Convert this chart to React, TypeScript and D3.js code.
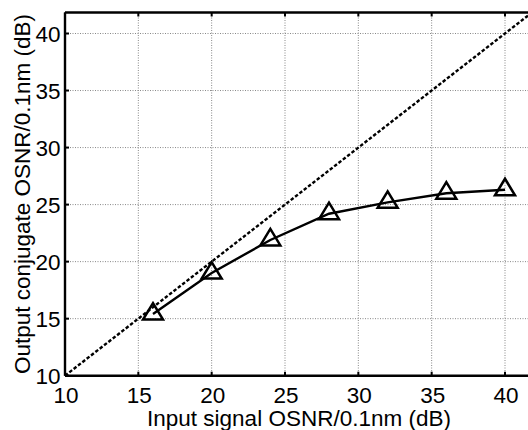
import React from "react";
import * as d3 from "d3";

const inputOSNR = [16, 20, 24, 28, 32, 36, 40];
const outputOSNR = [15.4, 19.0, 21.9, 24.2, 25.2, 26.0, 26.3];
const xTicks = [10, 15, 20, 25, 30, 35, 40];
const yTicks = [10, 15, 20, 25, 30, 35, 40];
const refLine = [10, 43];

const W = 528;
const H = 430;

export default function App() {
  const x = d3.scaleLinear().domain([10, 40]).range([65, 505]);
  const y = d3.scaleLinear().domain([10, 40]).range([375.7, 33.5]);
  const top = 12.5;
  const left = x(10);
  const bottom = y(10);
  const right = 540;
  const font = "Liberation Sans, Arial, Helvetica, sans-serif";
  const fs = 22.5;

  const line = d3
    .line<number>()
    .x((_, i) => x(inputOSNR[i]))
    .y((d) => y(d));
  const diag = d3
    .line<number>()
    .x((d) => x(d))
    .y((d) => y(d));

  const tri = "M0,-11L-10,5.5L10,5.5Z";

  return (
    <svg
      width={W}
      height={H}
      style={{ position: "absolute", left: 0, top: 0, background: "#fff" }}
    >
      <defs>
        <clipPath id="plot">
          <rect x={left} y={top} width={right - left} height={bottom - top} />
        </clipPath>
      </defs>
      <rect width={W} height={H} fill="#fff" />
      {/* grid */}
      <g stroke="#888" strokeWidth={1} strokeDasharray="1,1.5">
        {xTicks.slice(1).map((t) => (
          <line key={"gx" + t} x1={x(t)} x2={x(t)} y1={top} y2={bottom} />
        ))}
        {yTicks.slice(1).map((t) => (
          <line key={"gy" + t} x1={left} x2={right} y1={y(t)} y2={y(t)} />
        ))}
      </g>
      {/* tick marks */}
      <g stroke="#000" strokeWidth={2}>
        {xTicks.map((t) => (
          <g key={"tx" + t}>
            <line x1={x(t)} x2={x(t)} y1={bottom} y2={bottom - 4} />
            <line x1={x(t)} x2={x(t)} y1={top} y2={top + 4} />
          </g>
        ))}
        {yTicks.map((t) => (
          <line key={"ty" + t} x1={left} x2={left + 4} y1={y(t)} y2={y(t)} />
        ))}
      </g>
      {/* data */}
      <g clipPath="url(#plot)">
        <path
          d={diag(refLine) || ""}
          fill="none"
          stroke="#000"
          strokeWidth={2.4}
          strokeDasharray="3.5,2"
        />
        <path d={line(outputOSNR) || ""} fill="none" stroke="#000" strokeWidth={2.4} />
        {outputOSNR.map((v, i) => (
          <path
            key={"m" + i}
            d={tri}
            transform={`translate(${x(inputOSNR[i])},${y(v)})`}
            fill="none"
            stroke="#000"
            strokeWidth={2.5}
            strokeLinejoin="miter"
          />
        ))}
      </g>
      {/* axes box */}
      <g stroke="#000" strokeWidth={2.4} fill="none">
        <line x1={left} x2={right} y1={bottom} y2={bottom} />
        <line x1={left} x2={right} y1={top} y2={top} />
        <line x1={left} x2={left} y1={top} y2={bottom} />
      </g>
      {/* tick labels */}
      <g fontFamily={font} fontSize={fs} fill="#000">
        {xTicks.map((t) => (
          <text key={"lx" + t} x={x(t) + 1} y={402.5} textAnchor="middle">
            {t}
          </text>
        ))}
        {yTicks.map((t) => (
          <text key={"ly" + t} x={60.5} y={y(t) + 8.5} textAnchor="end">
            {t}
          </text>
        ))}
        <text x={299} y={426} textAnchor="middle">
          Input signal OSNR/0.1nm (dB)
        </text>
        <text
          transform={`translate(30,194) rotate(-90)`}
          textAnchor="middle"
        >
          Output conjugate OSNR/0.1nm (dB)
        </text>
      </g>
    </svg>
  );
}
